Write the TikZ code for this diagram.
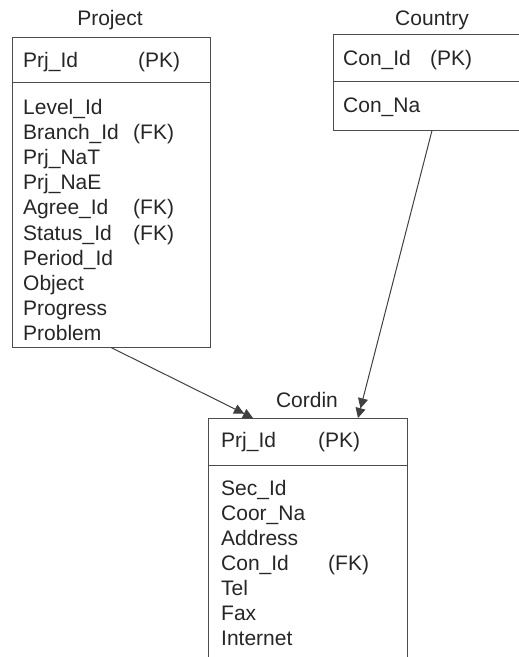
\documentclass[tikz,border=0pt]{standalone}
\usepackage{fontspec}
\setmainfont{Liberation Sans}
\usetikzlibrary{arrows.meta}
\tikzset{
  tbl/.style={draw=black!70, line width=1pt, inner sep=0pt},
  field/.style={anchor=base west, inner sep=0pt, text=black!85, font=\fontsize{21}{25}\selectfont},
  title/.style={anchor=base, inner sep=0pt, text=black!85, font=\fontsize{21}{25}\selectfont},
  rel/.style={draw=black!75, line width=1pt, -{Triangle[length=10pt,width=10pt]Triangle[length=10pt,width=10pt]}}
}
\begin{document}
\begin{tikzpicture}[x=1pt,y=-1pt]
  \useasboundingbox (0,0) rectangle (519,657);
  \clip (0,0) rectangle (519,657);
  % Project table
  \node[tbl, minimum width=198pt, minimum height=310pt] (project) at (111,192) {};
  \draw[tbl] ([yshift=-46pt]project.north west) -- ([yshift=-46pt]project.north east);
  \node[title] (prjtitle) at (110,25) {Project};
  \node[field] (prjkey) at (23,67) {Prj\_Id};
  \node[field] (prjpk) at (138,67) {(PK)};
  \foreach \f [count=\i] in {Level\_Id,Branch\_Id,Prj\_NaT,Prj\_NaE,Agree\_Id,Status\_Id,Period\_Id,Object,Progress,Problem}
    \node[field] (p\i) at (23,{88.8+25.2*\i}) {\f};
  \node[field] (p2k) at (133,139.2) {(FK)};
  \node[field] (p5k) at (133,214.8) {(FK)};
  \node[field] (p6k) at (133,240) {(FK)};
  % Country table (runs off the right edge)
  \node[tbl, minimum width=198pt, minimum height=96pt] (country) at (432,82) {};
  \draw[tbl] ([yshift=-48pt]country.north west) -- ([yshift=-48pt]country.north east);
  \node[title] (contitle) at (432,25) {Country};
  \node[field] (conkey) at (343,65) {Con\_Id};
  \node[field] (conpk) at (430,65) {(PK)};
  \node[field] (conna) at (343,112) {Con\_Na};
  % Cordin table (runs off the bottom)
  \node[tbl, minimum width=199pt, minimum height=300pt] (cordin) at (307.5,568) {};
  \draw[tbl] ([yshift=-48pt]cordin.north west) -- ([yshift=-48pt]cordin.north east);
  \node[title] (cortitle) at (307,407) {Cordin};
  \node[field] (corkey) at (221,447) {Prj\_Id};
  \node[field] (corpk) at (318,447) {(PK)};
  \foreach \f [count=\i] in {Sec\_Id,Coor\_Na,Address,Con\_Id,Tel,Fax,Internet}
    \node[field] (c\i) at (221,{470+25*\i}) {\f};
  \node[field] (c4k) at (328,570) {(FK)};
  % Relations
  \coordinate (cprj) at (253,418);
  \coordinate (ccon) at (358,418);
  \draw[rel] (project.south) -- (cprj);
  \draw[rel] (country.south) -- (ccon);
\end{tikzpicture}
\end{document}
